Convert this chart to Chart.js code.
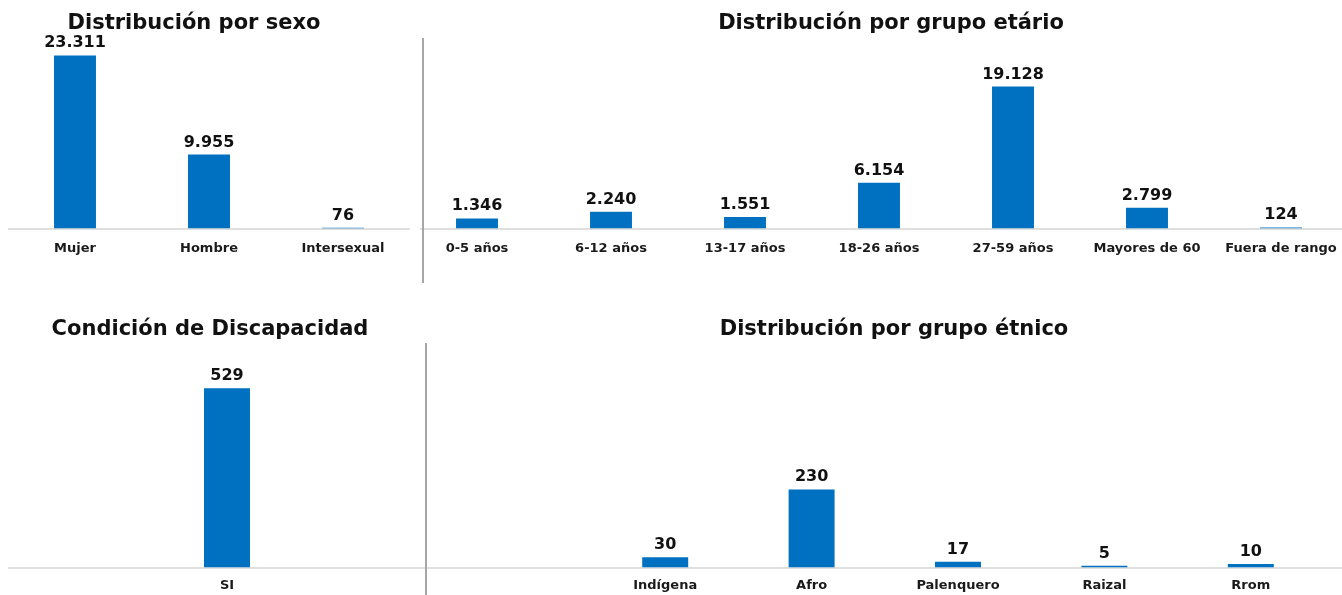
<!DOCTYPE html>
<html>
<head>
<meta charset="utf-8">
<script src="https://cdn.jsdelivr.net/npm/chart.js@4.4.1/dist/chart.umd.min.js"></script>
<style>
  html, body { margin: 0; padding: 0; overflow: hidden; background: #fff; width: 1342px; height: 595px; }
  canvas { position: absolute; }
  .divider { position: absolute; width: 1.5px; background: #a6a6a6; }
</style>
</head>
<body>
<canvas id="sexo" width="432" height="290" style="left:-22px;top:0px"></canvas>
<canvas id="edad" width="962" height="290" style="left:410px;top:0px"></canvas>
<canvas id="disc" width="472" height="305" style="left:-26px;top:300px"></canvas>
<canvas id="etnia" width="896" height="305" style="left:446px;top:300px"></canvas>
<div class="divider" style="left:422px;top:38px;height:245px"></div>
<div class="divider" style="left:425px;top:343px;height:252px"></div>
<script>
  const sexoLabels = ['Mujer', 'Hombre', 'Intersexual'];
  const sexoValues = [23311, 9955, 76];

  const edadLabels = ['0-5 años', '6-12 años', '13-17 años', '18-26 años', '27-59 años', 'Mayores de 60', 'Fuera de rango'];
  const edadValues = [1346, 2240, 1551, 6154, 19128, 2799, 124];

  const discLabels = ['SI'];
  const discValues = [529];

  const etniaLabels = ['Indígena', 'Afro', 'Palenquero', 'Raizal', 'Rrom'];
  const etniaValues = [30, 230, 17, 5, 10];

  const FONT = "'DejaVu Sans', sans-serif";
  const BLUE = '#0070C0';

  function fmt(n) {
    return n.toString().replace(/\B(?=(\d{3})+(?!\d))/g, '.');
  }

  // value labels above the bars
  const valueLabels = {
    id: 'valueLabels',
    afterDatasetsDraw(chart) {
      const ctx = chart.ctx;
      ctx.save();
      ctx.font = 'bold 16px ' + FONT;
      ctx.fillStyle = '#111';
      ctx.textAlign = 'center';
      ctx.textBaseline = 'alphabetic';
      chart.getDatasetMeta(0).data.forEach((bar, i) => {
        const v = chart.data.datasets[0].data[i];
        ctx.fillText(fmt(v), bar.x, bar.y - 8);
      });
      ctx.restore();
    }
  };

  // horizontal baseline at zero, across the panel
  const baseLine = {
    id: 'baseLine',
    beforeDatasetsDraw(chart, args, opts) {
      const ctx = chart.ctx;
      const y = chart.scales.y.getPixelForValue(0);
      ctx.save();
      ctx.strokeStyle = '#d4d4d4';
      ctx.lineWidth = 1.5;
      ctx.beginPath();
      ctx.moveTo(opts.x0 || 0, y + 0.5);
      ctx.lineTo(chart.width, y + 0.5);
      ctx.stroke();
      ctx.restore();
    }
  };

  // invisible side axes, only used to reserve room on each side
  function spacer(pos, w) {
    return {
      type: 'linear',
      position: pos,
      grid: { display: false },
      border: { display: false },
      ticks: { display: false },
      afterFit(scale) { scale.width = w; }
    };
  }

  function makeChart(id, labels, values, o) {
    const y = spacer('left', o.left);
    y.min = 0;
    y.max = o.max;
    return new Chart(document.getElementById(id), {
      type: 'bar',
      data: {
        labels: labels,
        datasets: [{
          data: values,
          backgroundColor: BLUE,
          borderWidth: 0,
          barPercentage: o.barPct,
          categoryPercentage: 1
        }]
      },
      options: {
        responsive: false,
        animation: false,
        devicePixelRatio: 1,
        layout: { padding: { left: 0, right: 0, top: 0, bottom: o.bottom } },
        plugins: {
          legend: { display: false },
          tooltip: { enabled: false },
          title: {
            display: true,
            text: o.title,
            color: '#111',
            font: { family: FONT, size: 21, weight: 'bold' },
            padding: o.titlePad
          },
          baseLine: { x0: o.lineX0 }
        },
        scales: {
          x: {
            grid: { display: false, drawTicks: false },
            border: { display: false },
            ticks: {
              color: '#1a1a1a',
              padding: o.tickPad,
              maxRotation: 0,
              autoSkip: false,
              font: { family: FONT, size: 13, weight: 'bold' }
            }
          },
          y: y,
          y2: spacer('right', o.right)
        }
      },
      plugins: [baseLine, valueLabels]
    });
  }

  makeChart('sexo', sexoLabels, sexoValues, {
    title: 'Distribución por sexo', barPct: 0.313, max: 25100,
    left: 30, right: 0, bottom: 22,
    titlePad: { top: 11, bottom: 6 }, tickPad: 12, lineX0: 30
  });

  makeChart('edad', edadLabels, edadValues, {
    title: 'Distribución por grupo etário', barPct: 0.313, max: 25100,
    left: 0, right: 24, bottom: 22,
    titlePad: { top: 11, bottom: 6 }, tickPad: 12, lineX0: 10
  });

  makeChart('disc', discLabels, discValues, {
    title: 'Condición de Discapacidad', barPct: 0.105, max: 647,
    left: 34, right: 0, bottom: 2,
    titlePad: { top: 17, bottom: 6 }, tickPad: 10, lineX0: 34
  });

  makeChart('etnia', etniaLabels, etniaValues, {
    title: 'Distribución por grupo étnico', barPct: 0.314, max: 647,
    left: 146, right: 18, bottom: 2,
    titlePad: { top: 17, bottom: 6 }, tickPad: 10, lineX0: 0
  });
</script>
</body>
</html>
